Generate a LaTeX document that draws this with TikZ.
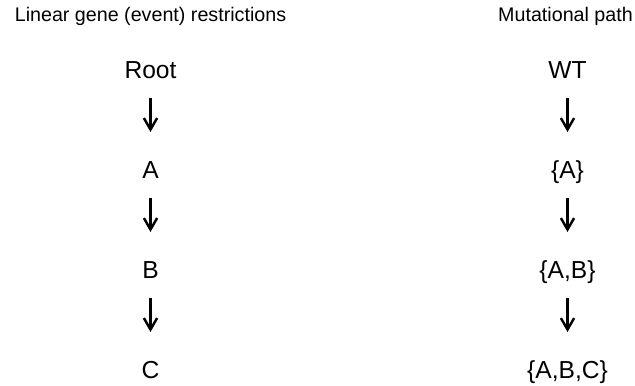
\documentclass[tikz,border=0pt]{standalone}
\usepackage{fontspec}
\setmainfont{Liberation Sans}
\usetikzlibrary{arrows.meta,positioning}

\begin{document}
\begin{tikzpicture}[
  head/.style={anchor=base, inner sep=0pt, font=\fontsize{11.2}{13}\selectfont},
  st/.style={anchor=base, inner sep=0pt, text height=0.75em, text depth=0.25em,
             font=\fontsize{14}{16}\selectfont},
  down/.style={draw=black, line width=1.4pt, -{Straight Barb[length=6.5pt, width=7.5pt]},
               shorten >=0.65cm, shorten <=0.3cm}
]
\useasboundingbox (0,0) rectangle (12.7,7.7);
% restrictions column
\node[head] (lhead) at (3.01,7.26) {Linear gene (event) restrictions};
\node[st] (root) at (3.01,6.14) {Root};
\node[st] (a) at (3.01,4.14) {A};
\draw[down] (root) -- (a);
\node[st] (b) at (3.01,2.14) {B};
\draw[down] (a) -- (b);
\node[st] (c) at (3.01,0.14) {C};
\draw[down] (b) -- (c);
% path column
\node[head] (rhead) at (11.31,7.26) {Mutational path};
\node[st] (wt) at (11.35,6.14) {WT};
\node[st] (sa) at (11.35,4.14) {\{A\}};
\draw[down] (wt) -- (sa);
\node[st] (sab) at (11.35,2.14) {\{A,B\}};
\draw[down] (sa) -- (sab);
\node[st] (sabc) at (11.35,0.14) {\{A,B,C\}};
\draw[down] (sab) -- (sabc);
\end{tikzpicture}
\end{document}
